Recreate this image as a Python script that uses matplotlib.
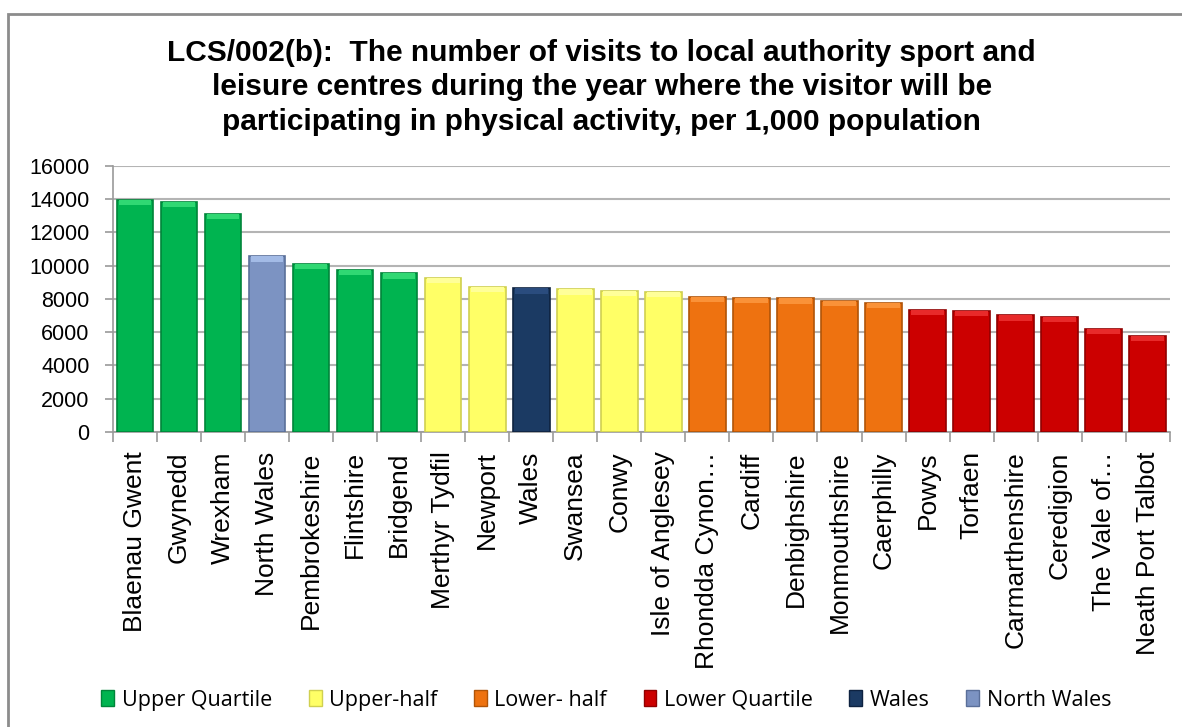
import matplotlib.pyplot as plt
from matplotlib.patches import Rectangle, Patch

areas = ['Blaenau Gwent', 'Gwynedd', 'Wrexham', 'North Wales', 'Pembrokeshire',
         'Flintshire', 'Bridgend', 'Merthyr Tydfil', 'Newport', 'Wales', 'Swansea',
         'Conwy', 'Isle of Anglesey', 'Rhondda Cynon…', 'Cardiff', 'Denbighshire',
         'Monmouthshire', 'Caerphilly', 'Powys', 'Torfaen', 'Carmarthenshire',
         'Ceredigion', 'The Vale of…', 'Neath Port Talbot']
visits = [13950, 13820, 13110, 10550, 10100, 9740, 9540, 9280, 8700, 8620, 8560,
          8480, 8400, 8120, 8040, 8030, 7880, 7760, 7320, 7260, 7000, 6920, 6210, 5770]
groups = ['Upper Quartile'] * 3 + ['North Wales'] + ['Upper Quartile'] * 3 + \
         ['Upper-half'] * 2 + ['Wales'] + ['Upper-half'] * 3 + ['Lower- half'] * 5 + \
         ['Lower Quartile'] * 6
yticks = [0, 2000, 4000, 6000, 8000, 10000, 12000, 14000, 16000]

# face, edge, light top bevel
colours = {'Upper Quartile': ('#00B450', '#00853A', '#30D873'),
           'Upper-half': ('#FFFF66', '#D0D050', '#FFFF99'),
           'Lower- half': ('#EE7210', '#B05408', '#FA9238'),
           'Lower Quartile': ('#CC0000', '#900000', '#E82A2A'),
           'Wales': ('#1B3A63', '#0E2240', '#2A4C7E'),
           'North Wales': ('#7C93C2', '#5A6F99', '#A3BBE6')}

fig = plt.figure(figsize=(11.82, 7.27), dpi=100)
ax = fig.add_axes([0.0956, 0.406, 0.894, 0.366])

x = list(range(len(areas)))
faces = [colours[g][0] for g in groups]
edges = [colours[g][1] for g in groups]
tops = [colours[g][2] for g in groups]
ax.bar(x, visits, width=0.83, color=faces, edgecolor=edges, linewidth=1.2, zorder=3)
bevel = 320
ax.bar(x, [bevel] * len(x), bottom=[v - bevel for v in visits], width=0.74,
       color=tops, linewidth=0, zorder=4)

ax.set_xlim(-0.5, len(areas) - 0.5)
ax.set_ylim(0, 16000)
ax.set_yticks(yticks)
ax.set_yticklabels([str(v) for v in yticks], fontsize=15.5, family='Liberation Sans')
ax.yaxis.grid(True, color='#B4B4B4', linewidth=1.5, zorder=0)
ax.tick_params(axis='y', length=6, color='#9A9A9A', width=1.2, pad=11)

ax.set_xticks(x)
ax.set_xticklabels(areas, rotation=90, fontsize=19, family='Liberation Sans', va='top')
ax.set_xticks([i - 0.5 for i in range(len(areas) + 1)], minor=True)
ax.tick_params(axis='x', which='major', length=0, pad=14)
ax.tick_params(axis='x', which='minor', length=7, color='#9A9A9A', width=1.2)

for side in ['top', 'right']:
    ax.spines[side].set_visible(False)
for side in ['left', 'bottom']:
    ax.spines[side].set_color('#9A9A9A')
    ax.spines[side].set_linewidth(1.2)

fig.text(0.509, 0.880,
         'LCS/002(b):  The number of visits to local authority sport and\n'
         'leisure centres during the year where the visitor will be\n'
         'participating in physical activity, per 1,000 population',
         ha='center', va='center', fontsize=21.5, fontweight='bold',
         family='Liberation Sans', linespacing=1.3)

labels = ['Upper Quartile', 'Upper-half', 'Lower- half', 'Lower Quartile', 'Wales', 'North Wales']
handles = [Patch(facecolor=colours[g][0], edgecolor=colours[g][1]) for g in labels]
fig.legend(handles, labels, loc='center', bbox_to_anchor=(0.513, 0.037), ncol=6,
           frameon=False, handlelength=0.6, handleheight=0.8,
           handletextpad=0.35, columnspacing=1.7, prop={'family': 'Open Sans', 'size': 15.5})

fig.patches.append(Rectangle((0.007, -0.05), 1.1, 1.031, transform=fig.transFigure,
                             fill=False, edgecolor='#8C8C8C', linewidth=2))

fig.savefig('out.png', dpi=100)
